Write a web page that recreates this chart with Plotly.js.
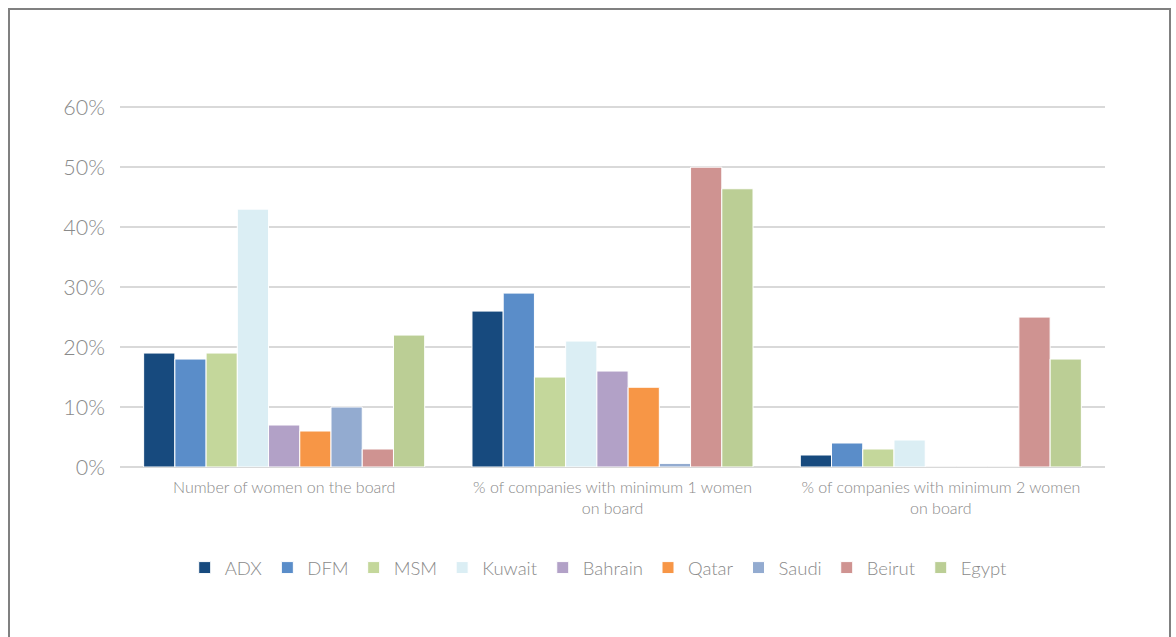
<!DOCTYPE html>
<html>
<head>
<meta charset="utf-8">
<script src="https://cdn.plot.ly/plotly-3.0.1.min.js"></script>
<style>
  html, body { margin: 0; padding: 0; background: #ffffff; }
  #wrap { position: relative; width: 1176px; height: 637px; overflow: hidden; }
  #chart { position: absolute; left: 0; top: 0; width: 1176px; height: 637px; }
  #frame { position: absolute; left: 8px; top: 8px; width: 1163px; height: 640px;
           border: 2px solid #808080; pointer-events: none; box-sizing: border-box; }
</style>
</head>
<body>
<div id="wrap">
  <div id="chart"></div>
  <div id="frame"></div>
</div>
<script>
// Board-diversity indicators per exchange (fractions)
const categories = [
  "Number of women on the board",
  "% of companies with minimum 1 women<br>on board",
  "% of companies with minimum 2 women<br>on board"
];
const exchanges = ["ADX", "DFM", "MSM", "Kuwait", "Bahrain", "Qatar", "Saudi", "Beirut", "Egypt"];

const ADX     = [0.19, 0.26, 0.02];
const DFM     = [0.18, 0.29, 0.04];
const MSM     = [0.19, 0.15, 0.03];
const Kuwait  = [0.43, 0.21, 0.045];
const Bahrain = [0.07, 0.16, 0];
const Qatar   = [0.06, 0.133, 0];
const Saudi   = [0.10, 0.006, 0];
const Beirut  = [0.03, 0.50, 0.25];
const Egypt   = [0.22, 0.464, 0.18];

const seriesValues = [ADX, DFM, MSM, Kuwait, Bahrain, Qatar, Saudi, Beirut, Egypt];
const colors = ["#174a7e", "#5a8dc9", "#c4d79b", "#dbeef4", "#b2a1c7", "#f79646", "#93abd0", "#cf9391", "#bbce95"];

const textFont = "Lato, 'Open Sans', sans-serif";
const textColor = "#8a8a8a";

const traces = exchanges.map((name, i) => ({
  type: "bar",
  name: name,
  x: categories,
  y: seriesValues[i],
  marker: { color: colors[i], line: { color: "#ffffff", width: 1 } },
  hoverinfo: "name+y"
}));

const layout = {
  width: 1176,
  height: 637,
  paper_bgcolor: "#ffffff",
  plot_bgcolor: "#ffffff",
  margin: { l: 120, r: 71, t: 106, b: 170 },
  barmode: "group",
  bargap: 0.144,
  bargroupgap: 0,
  font: { family: textFont, color: textColor },
  xaxis: {
    type: "category",
    showgrid: false,
    showline: false,
    ticks: "",
    ticklabelstandoff: 9,
    tickfont: { size: 16, color: textColor, family: textFont, weight: 300 },
    tickangle: 0,
    fixedrange: true
  },
  yaxis: {
    range: [0, 0.602],
    tickvals: [0, 0.1, 0.2, 0.3, 0.4, 0.5, 0.6],
    tickformat: ".0%",
    showgrid: true,
    gridcolor: "#d9d9d9",
    gridwidth: 1.5,
    zeroline: true,
    zerolinecolor: "#d9d9d9",
    zerolinewidth: 1.5,
    showline: false,
    ticks: "",
    ticklabelstandoff: 14,
    tickfont: { size: 21.5, color: textColor, family: textFont, weight: 300 },
    fixedrange: true
  },
  showlegend: true,
  legend: {
    orientation: "h",
    x: 0.486,
    xanchor: "center",
    y: -0.28,
    yanchor: "middle",
    font: { size: 18.5, color: textColor, family: textFont, weight: 300 },
    traceorder: "normal",
    itemwidth: 30
  }
};

Plotly.newPlot("chart", traces, layout, { displayModeBar: false, staticPlot: true });
</script>
</body>
</html>
